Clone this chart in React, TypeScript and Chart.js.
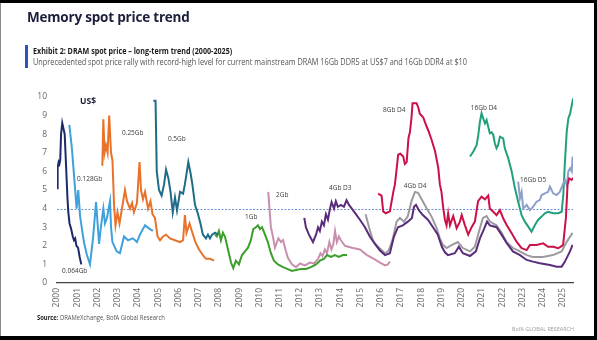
import React, { useEffect, useRef } from "react";
import { Chart, registerables } from "chart.js";

Chart.register(...registerables);

// ---- tick labels ----
const yearTicks = [2000, 2001, 2002, 2003, 2004, 2005, 2006, 2007, 2008, 2009, 2010, 2011, 2012, 2013, 2014, 2015, 2016, 2017, 2018, 2019, 2020, 2021, 2022, 2023, 2024, 2025];
const valueTicks = [0, 1, 2, 3, 4, 5, 6, 7, 8, 9, 10];

// ---- series: [year, US$] ----
const s064: [number, number][] = [
  [2000.0, 5.1], [2000.03, 6.2], [2000.08, 6.5], [2000.12, 6.4], [2000.16, 6.6], [2000.2, 8.0], [2000.26, 8.6],
  [2000.32, 8.3], [2000.38, 8.0], [2000.42, 7.0], [2000.48, 5.5], [2000.52, 4.5], [2000.56, 3.8], [2000.62, 3.2],
  [2000.7, 2.9], [2000.78, 2.5], [2000.84, 2.3], [2000.9, 2.4], [2000.96, 2.0], [2001.04, 1.9], [2001.12, 1.4], [2001.2, 1.0],
];
const s128: [number, number][] = [
  [2000.61, 8.5], [2000.74, 7.2], [2000.84, 5.8], [2000.97, 4.0], [2001.05, 5.0], [2001.14, 3.6], [2001.33, 2.2],
  [2001.48, 1.5], [2001.63, 1.0], [2001.78, 2.4], [2001.93, 4.35], [2002.08, 2.1], [2002.17, 3.0], [2002.29, 4.0],
  [2002.37, 3.2], [2002.47, 3.5], [2002.62, 4.4], [2002.67, 3.0], [2002.74, 2.2], [2002.95, 1.7], [2003.11, 1.6],
  [2003.31, 2.5], [2003.51, 2.3], [2003.75, 2.4], [2003.95, 2.2], [2004.1, 2.6], [2004.35, 3.1], [2004.59, 2.9], [2004.74, 2.8],
];
const s025: [number, number][] = [
  [2002.24, 6.3], [2002.29, 8.8], [2002.35, 7.0], [2002.42, 7.4], [2002.5, 7.0], [2002.58, 9.0], [2002.67, 7.0],
  [2002.74, 6.6], [2002.82, 4.2], [2002.89, 3.1], [2002.99, 3.8], [2003.09, 3.2], [2003.21, 4.0], [2003.36, 5.0],
  [2003.46, 4.4], [2003.61, 4.0], [2003.71, 4.3], [2003.8, 3.8], [2003.95, 4.3], [2004.08, 6.5], [2004.15, 5.0],
  [2004.25, 4.5], [2004.35, 4.9], [2004.5, 4.0], [2004.62, 4.4], [2004.72, 3.7], [2004.84, 3.5], [2004.97, 2.5],
  [2005.09, 2.3], [2005.24, 2.5], [2005.39, 2.6], [2005.58, 2.4], [2005.83, 2.3], [2006.08, 2.2], [2006.23, 2.3],
  [2006.32, 3.65], [2006.4, 2.7], [2006.55, 3.2], [2006.69, 2.7], [2006.84, 2.2], [2007.02, 1.8], [2007.21, 1.5],
  [2007.36, 1.3], [2007.56, 1.3], [2007.76, 1.2],
];
const s05: [number, number][] = [
  [2004.76, 9.8], [2004.87, 9.8], [2004.93, 6.0], [2005.04, 5.0], [2005.17, 4.7], [2005.29, 5.3], [2005.39, 6.1],
  [2005.51, 5.6], [2005.61, 4.9], [2005.72, 3.8], [2005.83, 4.6], [2005.93, 3.9], [2006.08, 4.9], [2006.23, 4.8],
  [2006.32, 5.3], [2006.49, 6.5], [2006.6, 5.9], [2006.69, 5.3], [2006.82, 4.2], [2006.97, 3.7], [2007.09, 3.2],
  [2007.21, 2.6], [2007.36, 2.4], [2007.46, 2.6], [2007.56, 2.4], [2007.66, 2.6], [2007.81, 2.7], [2007.95, 2.6],
];
const s1: [number, number][] = [
  [2007.81, 2.6], [2007.9, 2.5], [2008.0, 2.8], [2008.1, 2.3], [2008.2, 2.7], [2008.3, 2.5], [2008.45, 1.8],
  [2008.6, 1.1], [2008.71, 0.8], [2008.84, 1.2], [2008.99, 1.0], [2009.14, 1.5], [2009.29, 1.7], [2009.44, 1.9],
  [2009.58, 2.3], [2009.7, 2.9], [2009.83, 3.0], [2009.93, 3.1], [2010.03, 2.9], [2010.13, 3.0], [2010.28, 2.6],
  [2010.42, 2.2], [2010.57, 1.6], [2010.72, 1.2], [2010.92, 1.0], [2011.17, 0.85], [2011.41, 0.75], [2011.61, 0.65],
  [2011.81, 0.7], [2012.06, 0.75], [2012.3, 0.75], [2012.55, 0.85], [2012.8, 1.0], [2012.99, 1.2], [2013.19, 1.3],
  [2013.34, 1.5], [2013.54, 1.4], [2013.73, 1.5], [2013.93, 1.4], [2014.13, 1.5], [2014.33, 1.5],
];
const s2: [number, number][] = [
  [2010.44, 4.9], [2010.5, 4.0], [2010.57, 3.0], [2010.65, 2.6], [2010.77, 1.9], [2010.87, 2.2], [2010.94, 2.4],
  [2011.07, 2.2], [2011.17, 2.3], [2011.29, 1.8], [2011.41, 1.35], [2011.61, 1.0], [2011.81, 0.85], [2012.01, 1.05],
  [2012.25, 0.95], [2012.5, 1.1], [2012.7, 1.05], [2012.9, 1.3], [2013.02, 1.6], [2013.12, 1.45], [2013.24, 1.8],
  [2013.34, 1.6], [2013.46, 2.2], [2013.56, 1.8], [2013.66, 2.1], [2013.74, 2.8], [2013.83, 2.2], [2013.93, 2.5],
  [2014.03, 2.3], [2014.23, 2.0], [2014.57, 1.9], [2014.97, 1.8], [2015.32, 1.5], [2015.66, 1.3], [2015.96, 1.1],
  [2016.21, 0.95], [2016.35, 1.0], [2016.45, 1.15],
];
const s4d3: [number, number][] = [
  [2012.22, 3.5], [2012.3, 3.0], [2012.45, 2.6], [2012.65, 2.2], [2012.8, 2.6], [2012.9, 3.0], [2012.99, 2.8],
  [2013.09, 3.3], [2013.19, 3.1], [2013.29, 3.7], [2013.39, 3.4], [2013.49, 4.0], [2013.57, 4.35], [2013.69, 4.0],
  [2013.78, 4.4], [2013.88, 4.1], [2014.03, 4.2], [2014.18, 4.1], [2014.31, 4.45], [2014.43, 4.2], [2014.57, 4.0],
  [2014.77, 3.7], [2014.97, 3.4], [2015.22, 3.0], [2015.46, 2.5], [2015.71, 2.1], [2015.96, 1.75], [2016.21, 1.5],
  [2016.45, 1.6], [2016.65, 2.5], [2016.85, 3.0], [2017.09, 3.1], [2017.34, 3.3], [2017.54, 3.5], [2017.64, 4.1],
  [2017.74, 4.2], [2017.89, 3.9], [2018.08, 3.65], [2018.33, 3.4], [2018.58, 3.0], [2018.82, 2.6], [2019.02, 1.95],
  [2019.17, 1.65], [2019.32, 1.5], [2019.66, 1.6], [2019.86, 1.95], [2020.06, 1.6], [2020.41, 1.45], [2020.7, 1.7],
  [2020.9, 2.4], [2021.1, 2.9], [2021.25, 3.3], [2021.39, 3.1], [2021.72, 3.0], [2021.97, 2.6], [2022.22, 2.15],
  [2022.53, 1.7], [2022.88, 1.5], [2023.21, 1.24], [2023.52, 1.15], [2023.86, 1.06], [2024.36, 0.97], [2024.69, 0.88],
  [2024.94, 0.88], [2025.1, 1.15], [2025.35, 1.7], [2025.48, 2.05],
];
const s4d4: [number, number][] = [
  [2015.25, 3.7], [2015.42, 3.0], [2015.61, 2.3], [2015.81, 2.0], [2016.01, 1.8], [2016.21, 1.6], [2016.35, 1.7],
  [2016.45, 1.9], [2016.6, 2.4], [2016.78, 3.3], [2016.95, 3.5], [2017.15, 3.3], [2017.34, 3.6], [2017.52, 4.4],
  [2017.69, 4.9], [2017.84, 4.85], [2018.02, 4.5], [2018.27, 4.0], [2018.51, 3.57], [2018.76, 2.95], [2018.92, 2.4],
  [2019.07, 2.05], [2019.25, 1.88], [2019.5, 2.04], [2019.81, 2.2], [2020.06, 1.88], [2020.41, 1.7], [2020.65, 1.95],
  [2020.9, 2.95], [2021.05, 3.5], [2021.23, 3.6], [2021.39, 3.3], [2021.72, 3.1], [2021.97, 2.7], [2022.22, 2.2],
  [2022.53, 1.88], [2022.88, 1.7], [2023.21, 1.5], [2023.52, 1.4], [2024.01, 1.4], [2024.51, 1.5], [2024.94, 1.7],
  [2025.18, 2.2], [2025.48, 2.7],
];
const s8d4: [number, number][] = [
  [2015.87, 4.8], [2016.04, 4.7], [2016.12, 3.85], [2016.25, 3.75], [2016.45, 3.85], [2016.62, 4.9], [2016.7, 5.3],
  [2016.78, 6.1], [2016.86, 6.9], [2016.97, 6.95], [2017.11, 6.8], [2017.19, 6.4], [2017.28, 6.5], [2017.37, 7.8],
  [2017.44, 8.1], [2017.52, 8.9], [2017.57, 9.66], [2017.77, 9.66], [2017.85, 9.45], [2017.93, 9.1], [2018.1, 8.9],
  [2018.27, 8.4], [2018.35, 8.2], [2018.51, 7.7], [2018.68, 7.1], [2018.84, 6.2], [2018.92, 5.3], [2019.0, 4.9],
  [2019.08, 4.1], [2019.17, 3.4], [2019.25, 3.1], [2019.33, 3.75], [2019.42, 3.1], [2019.58, 3.6], [2019.75, 2.95],
  [2019.91, 3.3], [2020.0, 3.65], [2020.16, 3.1], [2020.32, 2.6], [2020.49, 3.0], [2020.65, 3.3], [2020.81, 4.4],
  [2020.98, 4.64], [2021.15, 4.5], [2021.31, 4.7], [2021.39, 4.0], [2021.56, 3.83], [2021.72, 3.65], [2021.89, 3.92],
  [2022.05, 3.48], [2022.22, 3.12], [2022.47, 2.67], [2022.71, 2.22], [2022.96, 1.87], [2023.21, 1.77], [2023.37, 2.04],
  [2023.7, 2.04], [2024.03, 2.13], [2024.27, 1.95], [2024.52, 1.95], [2024.77, 1.87], [2025.01, 2.04], [2025.15, 3.5],
  [2025.23, 5.27], [2025.31, 5.63], [2025.43, 5.54], [2025.51, 5.65],
];
const s16d4: [number, number][] = [
  [2020.41, 6.8], [2020.57, 7.06], [2020.74, 7.42], [2020.82, 7.96], [2020.9, 8.67], [2020.98, 9.12], [2021.06, 8.85],
  [2021.15, 8.58], [2021.23, 8.76], [2021.31, 8.4], [2021.39, 8.05], [2021.48, 8.1], [2021.56, 7.96], [2021.64, 7.5],
  [2021.72, 7.24], [2021.8, 7.42], [2021.89, 7.87], [2022.05, 7.78], [2022.13, 7.24], [2022.3, 6.7], [2022.47, 6.0],
  [2022.63, 5.09], [2022.79, 4.37], [2022.96, 3.65], [2023.12, 3.3], [2023.29, 3.03], [2023.45, 2.76], [2023.62, 3.12],
  [2023.78, 3.4], [2023.95, 3.57], [2024.11, 3.75], [2024.27, 3.83], [2024.52, 3.75], [2024.77, 3.75], [2024.94, 3.83],
  [2025.02, 4.73], [2025.1, 6.5], [2025.19, 8.14], [2025.27, 8.85], [2025.36, 9.12], [2025.44, 9.57], [2025.51, 9.93],
];
const s16d5: [number, number][] = [
  [2022.79, 5.45], [2022.88, 4.55], [2022.96, 4.9], [2023.04, 4.0], [2023.21, 4.2], [2023.37, 3.92], [2023.53, 4.1],
  [2023.7, 4.37], [2023.86, 4.46], [2023.95, 4.73], [2024.11, 4.82], [2024.27, 4.9], [2024.36, 5.18], [2024.44, 5.0],
  [2024.52, 4.82], [2024.69, 4.73], [2024.85, 4.9], [2025.02, 5.36], [2025.1, 5.54], [2025.19, 5.27], [2025.27, 6.0],
  [2025.36, 6.17], [2025.44, 6.0], [2025.48, 6.8],
];

const seriesNames = ["0.064Gb", "0.128Gb", "0.25Gb", "0.5Gb", "1Gb", "2Gb", "4Gb D3", "4Gb D4", "8Gb D4", "16Gb D5", "16Gb D4"];
const seriesData = [s064, s128, s025, s05, s1, s2, s4d3, s4d4, s8d4, s16d5, s16d4];
const seriesColors = ["#1b2a6b", "#3fa1dc", "#e8722a", "#1f6c88", "#3b9f2b", "#c98fae", "#5a2c7c", "#9c9a9e", "#cc1048", "#8e9fcb", "#22a07d"];

// label anchors (data coords: year, value) for the in-chart series labels
const labelAnchors: [string, number, number][] = [
  ["0.064Gb", 2000.25, 0.62],
  ["0.128Gb", 2000.99, 5.56],
  ["0.25Gb", 2003.21, 8.06],
  ["0.5Gb", 2005.48, 7.74],
  ["1Gb", 2009.29, 3.55],
  ["2Gb", 2010.82, 4.73],
  ["4Gb D3", 2013.44, 5.11],
  ["8Gb D4", 2016.11, 9.3],
  ["4Gb D4", 2017.14, 5.22],
  ["16Gb D4", 2020.45, 9.41],
  ["16Gb D5", 2022.88, 5.54],
];
const unitLabel = "US$";
const refLevel = 4;

const FONT = "'Open Sans', 'Liberation Sans', sans-serif";

const overlayPlugin = {
  id: "overlay",
  beforeDatasetsDraw(chart: any) {
    const { ctx, chartArea, scales } = chart;
    const yy = Math.round(scales.y.getPixelForValue(refLevel)) + 0.5;
    ctx.save();
    ctx.strokeStyle = "#6f92d4";
    ctx.lineWidth = 1;
    ctx.setLineDash([2, 1.5]);
    ctx.beginPath();
    ctx.moveTo(chartArea.left, yy);
    ctx.lineTo(chartArea.right, yy);
    ctx.stroke();
    ctx.restore();
  },
  afterDatasetsDraw(chart: any) {
    const { ctx, scales } = chart;
    ctx.save();
    ctx.textBaseline = "middle";
    ctx.textAlign = "left";
    ctx.fillStyle = "#3a3a3a";
    ctx.font = `6.5px ${FONT}`;
    for (const [t, x, y] of labelAnchors) {
      ctx.fillText(t, scales.x.getPixelForValue(x), scales.y.getPixelForValue(y));
    }
    ctx.font = `bold 8.5px ${FONT}`;
    ctx.fillStyle = "#1b1f3b";
    ctx.fillText(unitLabel, scales.x.getPixelForValue(2001.14), scales.y.getPixelForValue(9.76));
    ctx.restore();
  },
};

export default function App() {
  const ref = useRef<HTMLCanvasElement | null>(null);
  useEffect(() => {
    document.body.style.margin = "0";
    const canvas = ref.current!;
    const chart = new Chart(canvas, {
      type: "line",
      data: {
        datasets: seriesData.map((d, i) => ({
          label: seriesNames[i],
          data: d.map(([x, y]) => ({ x, y })),
          borderColor: seriesColors[i],
          backgroundColor: seriesColors[i],
          borderWidth: 2,
          pointRadius: 0,
          tension: 0,
          fill: false,
        })),
      },
      options: {
        animation: false,
        responsive: false,
        maintainAspectRatio: false,
        layout: { padding: { left: 8, right: 24, top: 97, bottom: 27 } },
        plugins: { legend: { display: false }, tooltip: { enabled: false } },
        scales: {
          x: {
            type: "linear",
            min: 2000,
            max: 2025.5,
            afterBuildTicks: (s: any) => {
              s.ticks = yearTicks.map((v) => ({ value: v }));
            },
            afterFit: (s: any) => {
              s.height = 30;
            },
            ticks: {
              autoSkip: false,
              minRotation: 90,
              maxRotation: 90,
              padding: 5,
              color: "#666",
              font: { family: FONT, size: 8.5 },
              callback: (v: any) => String(v),
            },
            grid: { display: false, drawTicks: false },
            border: { display: true, color: "#444", width: 1.3 },
          },
          y: {
            min: 0,
            max: 10,
            afterBuildTicks: (s: any) => {
              s.ticks = valueTicks.map((v) => ({ value: v }));
            },
            afterFit: (s: any) => {
              s.width = 49;
            },
            ticks: {
              padding: 10,
              color: "#666",
              font: { family: FONT, size: 8.5 },
              callback: (v: any) => String(v),
            },
            grid: { display: false, drawTicks: false },
            border: { display: false },
          },
        },
      },
      plugins: [overlayPlugin],
    } as any);
    return () => chart.destroy();
  }, []);

  return (
    <div style={{ position: "relative", width: 597, height: 340, background: "#000", overflow: "hidden", fontFamily: FONT }}>
      <div style={{ position: "absolute", left: 1, top: 3, width: 593, height: 333, background: "#fff" }} />
      <div style={{ position: "absolute", left: 0, top: 3, width: 1, height: 333, background: "#8a8a8a" }} />
      <canvas ref={ref} width={597} height={340} style={{ position: "absolute", left: 0, top: 0, width: 597, height: 340 }} />
      <div style={{ position: "absolute", left: 27, top: 8, fontSize: 13.5, fontWeight: 700, color: "#1b1f3b", whiteSpace: "nowrap", letterSpacing: -0.2 }}>
        Memory spot price trend
      </div>
      <div style={{ position: "absolute", left: 25, top: 45, width: 3, height: 23, background: "#2d55b8" }} />
      <div style={{ position: "absolute", left: 33, top: 45, fontSize: 8.5, fontWeight: 700, color: "#1a1a1a", whiteSpace: "nowrap", lineHeight: "11px", transform: "scaleX(0.84)", transformOrigin: "left" }}>
        Exhibit 2: DRAM spot price – long-term trend (2000-2025)
      </div>
      <div style={{ position: "absolute", left: 33, top: 56, fontSize: 8.5, color: "#555", whiteSpace: "nowrap", lineHeight: "11px", transform: "scaleX(0.86)", transformOrigin: "left" }}>
        Unprecedented spot price rally with record-high level for current mainstream DRAM 16Gb DDR5 at US$7 and 16Gb DDR4 at $10
      </div>
      <div style={{ position: "absolute", left: 37, top: 313, fontSize: 6.5, color: "#555", whiteSpace: "nowrap", lineHeight: "9px", transform: "scaleX(0.9)", transformOrigin: "left" }}>
        <b style={{ color: "#1a1a1a" }}>Source:</b> DRAMeXchange, BofA Global Research
      </div>
      <div style={{ position: "absolute", left: 512, top: 325, fontSize: 6, color: "#9a9a9a", whiteSpace: "nowrap", lineHeight: "8px", transform: "scaleX(0.9)", transformOrigin: "left" }}>
        BofA GLOBAL RESEARCH
      </div>
    </div>
  );
}
